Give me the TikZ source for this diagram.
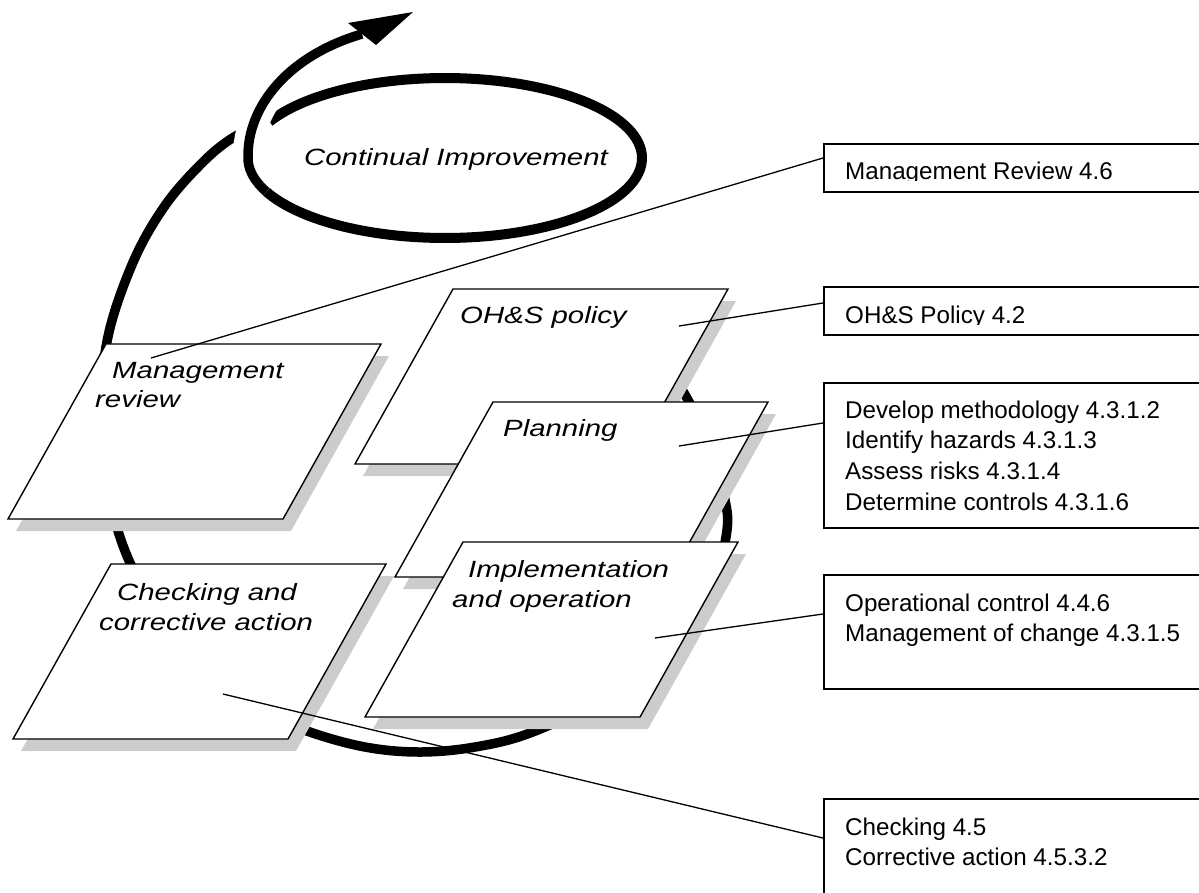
\documentclass[tikz,border=0pt]{standalone}
\usepackage{fontspec}
\setmainfont{Liberation Sans}
\newfontfamily\widefont[FakeStretch=1.25]{Liberation Sans}
\begin{document}
\begin{tikzpicture}[x=1pt,y=-1pt,
  loopline/.style={line width=9.5pt, line cap=butt},
  halo/.style={white, line width=30pt, line cap=butt},
  parashape/.style={draw=black, fill=white, line width=1.4pt, line join=miter},
  shad/.style={fill=black!20},
  lab/.style={font=\widefont\itshape\fontsize{23.5}{29}\selectfont, anchor=base west, inner sep=0pt},
  reftext/.style={font=\fontsize{24.2}{31}\selectfont, anchor=base west, inner sep=0pt},
  refbox/.style={draw=black, fill=white, line width=1.6pt, anchor=north west, minimum width=420pt, inner sep=0pt},
  conn/.style={line width=1.3pt}]
\useasboundingbox (0,0) rectangle (1199,892);
\clip (0,0) rectangle (1199,892);
\newcommand\drawpara[2]{%
  \fill[shad] (#1+8,#2+12) -- ++(275,0) -- ++(-98,175) -- ++(-275,0) -- cycle;
  \draw[parashape] (#1,#2) -- ++(275,0) -- ++(-98,175) -- ++(-275,0) -- cycle;}

% ---- spiral (behind everything)
\draw[loopline] plot[smooth, tension=0.6] coordinates {
  (628,332) (662,362) (688,400) (712,452) (725,500) (727,530) (716,575)
  (693,620) (655,660) (600,700) (530,733) (475,747) (420,752) (365,747)
  (307,731) (261,710) (177,639) (122,543) (103,435) (106,347) (131,267)
  (164,207) (203,162) (234,137) (262,125)};
% ---- continual improvement loop
\draw[loopline, line width=10pt] plot[domain=207:540, samples=150, variable=\t]
  ({445+197*cos(\t)},{158+80*sin(\t)});
\draw[halo] plot[domain=515:540, samples=20, variable=\t]
  ({445+197*cos(\t)},{158+80*sin(\t)}) .. controls (247,105) and (290,55) .. (362,34);
\draw[loopline] plot[domain=515:540, samples=20, variable=\t]
  ({445+197*cos(\t)},{158+80*sin(\t)}) .. controls (247,105) and (290,55) .. (362,34);
\fill (413,12) -- (348,23) -- (376,45) -- cycle;
\node[lab] (ci) at (304,165) {Continual Improvement};

% ---- parallelograms
\drawpara{106}{344}
\node[lab] (mr1) at (112,378) {Management};
\node[lab] (mr2) at (95,407) {review};
\drawpara{111}{564}
\node[lab] (ca1) at (117,600) {Checking and};
\node[lab] (ca2) at (99,630) {corrective action};
\drawpara{453}{289}
\node[lab] (op) at (460,323) {OH\&S policy};
\drawpara{493}{402}
\node[lab] (pl) at (503,436) {Planning};
\drawpara{463}{542}
\node[lab] (io1) at (468,577) {Implementation};
\node[lab] (io2) at (452,607) {and operation};

% ---- reference boxes
\node[refbox, minimum height=48pt] (rb1) at (823,143) {};
\begin{scope}
  \clip (823,143) rectangle (1199,180);
  \node[reftext] (t1) at (845,179) {Management Review 4.6};
\end{scope}
\node[refbox, minimum height=48pt] (rb2) at (823,286) {};
\begin{scope}
  \clip (823,286) rectangle (1199,324.5);
  \node[reftext] (t2) at (845,323) {OH\&S Policy 4.2};
\end{scope}
\node[refbox, minimum height=145pt] (rb3) at (823,382) {};
\node[reftext] (t3a) at (845,418) {Develop methodology 4.3.1.2};
\node[reftext] (t3b) at (845,448.7) {Identify hazards 4.3.1.3};
\node[reftext] (t3c) at (845,479.4) {Assess risks 4.3.1.4};
\node[reftext] (t3d) at (845,510) {Determine controls 4.3.1.6};
\node[refbox, minimum height=114pt] (rb4) at (823,574) {};
\node[reftext] (t4a) at (845,611) {Operational control 4.4.6};
\node[reftext] (t4b) at (845,641) {Management of change 4.3.1.5};
\node[refbox, minimum height=120pt] (rb5) at (823,798) {};
\node[reftext] (t5a) at (845,835) {Checking 4.5};
\node[reftext] (t5b) at (845,865) {Corrective action 4.5.3.2};

% ---- connectors
\coordinate (p1) at (151,358); \coordinate (c1) at (823,158);
\coordinate (p2) at (679,326); \coordinate (c2) at (823,303);
\coordinate (p3) at (679,446); \coordinate (c3) at (823,423);
\coordinate (p4) at (655,638); \coordinate (c4) at (823,614);
\coordinate (p5) at (223,694); \coordinate (c5) at (823,838);
\draw[conn] (p1) -- (c1);
\draw[conn] (p2) -- (c2);
\draw[conn] (p3) -- (c3);
\draw[conn] (p4) -- (c4);
\draw[conn] (p5) -- (c5);
\end{tikzpicture}
\end{document}
